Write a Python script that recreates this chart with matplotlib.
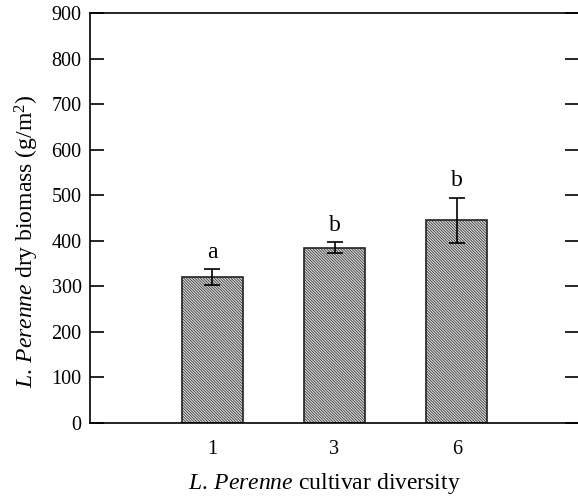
import matplotlib
matplotlib.use("Agg")
import matplotlib.pyplot as plt

plt.rcParams["font.family"] = "Liberation Serif"
plt.rcParams["mathtext.fontset"] = "custom"
plt.rcParams["mathtext.rm"] = "Liberation Serif"
plt.rcParams["mathtext.it"] = "Liberation Serif:italic"
plt.rcParams["hatch.color"] = "#7a7a7a"
plt.rcParams["hatch.linewidth"] = 0.5

diversity = ["1", "3", "6"]
biomass = [321, 385, 445]
biomass_se = [17, 12, 50]
groups = ["a", "b", "b"]

fig = plt.figure(figsize=(5.78, 4.97), dpi=100)
ax = fig.add_axes([90 / 578, 74 / 497, 489 / 578, 410 / 497])

positions = [1, 2, 3]
ax.bar(positions, biomass, width=0.5, color="#dadada", edgecolor="#222222",
       linewidth=1.2, hatch="\\" * 12)
ax.errorbar(positions, biomass, yerr=biomass_se, fmt="none", ecolor="black",
            elinewidth=1.2, capsize=6, capthick=1.2)

for x, y, se, g in zip(positions, biomass, biomass_se, groups):
    ax.text(x, y + se + 14, g, ha="center", va="bottom", fontsize=17)

ax.set_xlim(0, 4)
ax.set_ylim(0, 900)
ax.set_xticks(positions)
ax.set_xticklabels(diversity)
ax.set_yticks(range(0, 901, 100))
ax.tick_params(axis="y", direction="in", length=10, width=1.2, labelsize=14.5,
               right=True, pad=6)
ax.tick_params(axis="x", length=0, labelsize=14.5, pad=12)
for s in ax.spines.values():
    s.set_linewidth(1.2)

ax.set_xlabel(r"$\mathit{L.\,Perenne}$ cultivar diversity", fontsize=17)
ax.set_ylabel(r"$\mathit{L.\,Perenne}$ dry biomass (g/m$^2$)", fontsize=17)
ax.xaxis.set_label_coords(0.48, -0.117)
ax.yaxis.set_label_coords(-0.10, 0.443)

fig.savefig("out.png", dpi=100)
